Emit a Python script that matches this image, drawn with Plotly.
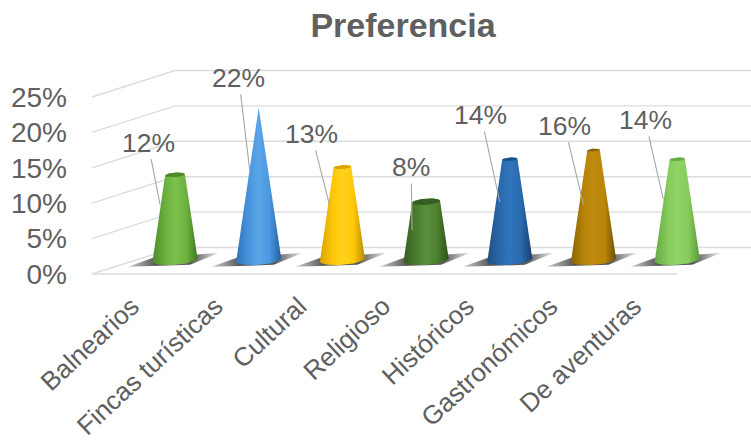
import numpy as np
import plotly.graph_objects as go

categories = ["Balnearios", "Fincas turísticas", "Cultural", "Religioso",
              "Históricos", "Gastronómicos", "De aventuras"]
values = [12.0, 21.5, 13.1, 8.2, 14.2, 15.5, 14.2]
tick_values = [0, 5, 10, 15, 20, 25]

# gradient stops per cone: edge dark, mid, highlight, edge dark
cone_colors = [
    ("#4E8A2A", "#6DB23F", "#7CC04E", "#3F7A22"),
    ("#2F74BC", "#4A97E0", "#5BA5E8", "#225E9E"),
    ("#D9A200", "#FFC808", "#FFD21E", "#B98A05"),
    ("#355F20", "#4C7F2F", "#5A8F3C", "#2C5219"),
    ("#1D4F85", "#2A6AAE", "#2F74BC", "#183F6C"),
    ("#8A6303", "#B98508", "#C08C10", "#6F5003"),
    ("#68A845", "#86CB5C", "#90D366", "#5A9A3A"),
]

PX_X = 83.7       # pixels per category
PX_Y = 7.08       # pixels per percentage point
DEPTH_V = 3.74    # wall depth in value units
DEPTH_X = 83 / PX_X
BASE_V = 2.0      # cone base sits mid-floor
HALF_W = 22.5 / PX_X
ELL_B = 5.0 / PX_Y
TILT = 0.07 * PX_X / PX_Y
TEXT = "#606060"

fig = go.Figure()
grid_color = "#DCDCDC"
front_x = -83 / PX_X
x_end = (751 - 175) / PX_X

for t in tick_values:
    fig.add_trace(go.Scatter(
        x=[front_x, front_x + DEPTH_X, x_end], y=[t, t + DEPTH_V, t + DEPTH_V],
        mode="lines", line=dict(color=grid_color, width=1.4), hoverinfo="skip"))
fig.add_trace(go.Scatter(
    x=[front_x, len(categories) - 1], y=[0, 0],
    mode="lines", line=dict(color=grid_color, width=1.6), hoverinfo="skip"))

theta = np.linspace(0, np.pi, 25)
for i, (v, cols) in enumerate(zip(values, cone_colors)):
    # floor shadow
    fig.add_trace(go.Scatter(
        x=[i - 47 / PX_X, i - 22 / PX_X, i + 44 / PX_X, i + 15 / PX_X, i - 47 / PX_X],
        y=[BASE_V - 7 / PX_Y, BASE_V + 2 / PX_Y, BASE_V + 7 / PX_Y, BASE_V - 5 / PX_Y, BASE_V - 7 / PX_Y],
        mode="lines", line=dict(width=0), fill="toself",
        fillgradient=dict(type="horizontal", colorscale=[
            [0, "rgba(70,70,70,0.25)"], [0.3, "rgba(70,70,70,0.9)"],
            [0.7, "rgba(70,70,70,0.9)"], [1, "rgba(70,70,70,0.1)"]]),
        hoverinfo="skip"))
    scale = 1 - v / max(values)
    hw_top = HALF_W * scale
    top_v = BASE_V + v
    # body: lower base arc then upper top arc
    bx = -HALF_W * np.cos(theta)
    by = BASE_V - ELL_B * np.sin(theta) + TILT * bx
    tx = HALF_W * scale * np.cos(theta)
    ty = top_v + ELL_B * scale * np.sin(theta) + TILT * tx
    fig.add_trace(go.Scatter(
        x=np.r_[i + bx, i + tx, i + bx[0]], y=np.r_[by, ty, by[0]],
        mode="lines", line=dict(width=0), fill="toself",
        fillgradient=dict(type="horizontal", colorscale=[
            [0, cols[0]], [0.3, cols[1]], [0.5, cols[2]], [0.75, cols[1]], [1, cols[3]]]),
        hoverinfo="skip"))
    # cap
    if scale > 0:
        a = np.linspace(0, 2 * np.pi, 40)
        cx = hw_top * np.cos(a)
        cy = top_v + ELL_B * scale * np.sin(a) + TILT * cx
        fig.add_trace(go.Scatter(
            x=i + cx, y=cy, mode="lines", line=dict(width=0), fill="toself",
            fillcolor=cols[0], hoverinfo="skip"))

# leader line end (x offset from cone in px, height in percent) and label offset (px)
label_anchor_dx = [-15, -9, -13, -14, -10, -10, -14]
label_anchor_v = [7.8, 12.7, 7.8, 4.2, 8.2, 7.8, 8.6]
label_dx = [-12, -11, -18, -1, -19, -19, -18]
label_dy = [-62, -92, -71, -63, -87, -79, -79]

for i, v in enumerate(values):
    fig.add_annotation(
        x=i + label_anchor_dx[i] / PX_X, y=BASE_V + label_anchor_v[i],
        xref="x", yref="y", text=f"{round(v)}%",
        ax=label_dx[i], ay=label_dy[i], axref="pixel", ayref="pixel",
        showarrow=True, arrowhead=0, arrowwidth=1.1, arrowcolor="#A6A6A6",
        font=dict(family="Liberation Sans", size=26.5, color=TEXT))

PLOT_L, PLOT_T, PLOT_B = 75, 40, 285
fig.update_layout(
    width=751, height=441, showlegend=False,
    paper_bgcolor="white", plot_bgcolor="white",
    margin=dict(l=PLOT_L, r=0, t=PLOT_T, b=441 - PLOT_B, autoexpand=False),
    title=dict(text="<b>Preferencia</b>", x=403 / 751, xref="container", xanchor="center",
               y=1 - 25 / 441, yref="container", yanchor="middle",
               font=dict(family="Liberation Sans", size=34, color=TEXT)),
    xaxis=dict(range=[(PLOT_L - 175) / PX_X, (751 - 175) / PX_X], showgrid=False, zeroline=False,
               showline=False, ticks="",
               tickvals=[i - 43 / PX_X for i in range(len(categories))], ticktext=categories,
               tickangle=-43, tickfont=dict(family="Liberation Sans", size=26, color=TEXT)),
    yaxis=dict(range=[(274 - PLOT_B) / PX_Y, (274 - PLOT_T) / PX_Y], showgrid=False, zeroline=False,
               showline=False, ticks="", ticklabelstandoff=7,
               tickvals=tick_values, ticktext=[f"{t}%" for t in tick_values],
               tickfont=dict(family="Liberation Sans", size=28, color=TEXT)),
)
fig.write_html("out.html", config={"displayModeBar": False},
               post_script="document.body.style.margin='0';document.body.style.overflow='hidden';")
